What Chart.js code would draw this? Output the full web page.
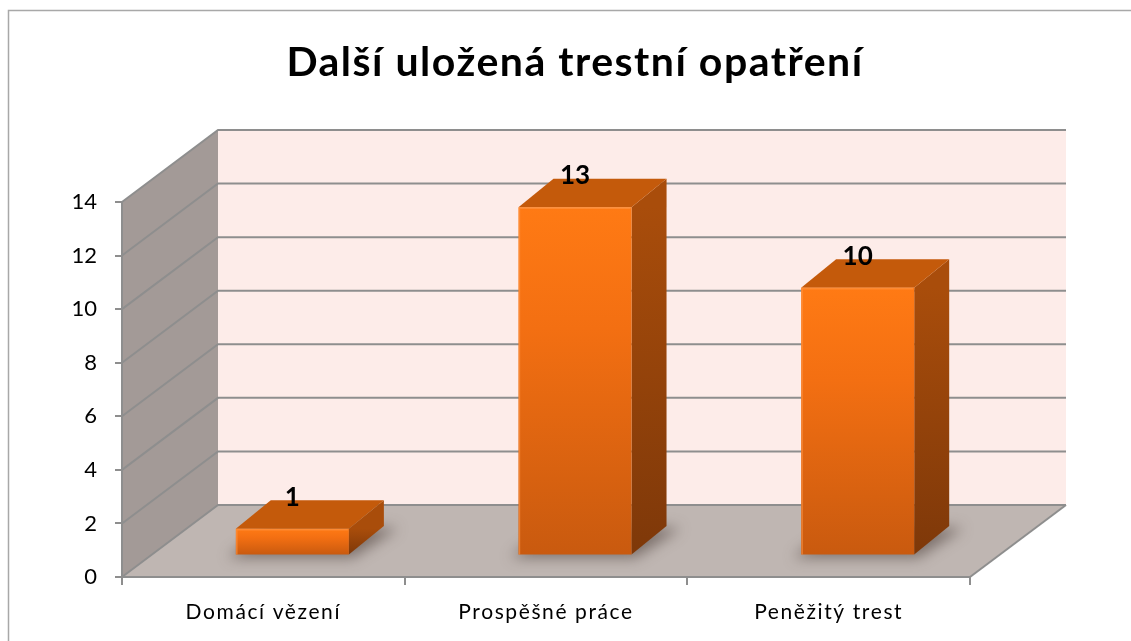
<!DOCTYPE html>
<html>
<head>
<meta charset="utf-8">
<script src="https://cdn.jsdelivr.net/npm/chart.js@4.4.1/dist/chart.umd.min.js"></script>
<style>
  html, body { margin: 0; padding: 0; background: #ffffff; }
  #wrap { width: 1131px; height: 641px; position: relative; }
</style>
</head>
<body>
<div id="wrap"><canvas id="c" width="1131" height="641"></canvas></div>
<script>
const categories = ['Domácí vězení', 'Prospěšné práce', 'Peněžitý trest'];
const values = [1, 13, 10];
const yTicks = [0, 2, 4, 6, 8, 10, 12, 14];
const chartTitle = 'Další uložená trestní opatření';

// 3D styling constants (not data)
const WALL_DX = 96, WALL_DY = -72;     // depth of the walls/floor
const FACE_DX = 29, FACE_DY = -21.5;   // where the bars' front faces sit
const BAR_DX = 35, BAR_DY = -28.5;     // depth of each bar
const GRID = '#8e8e8e';
const FONT = 'Lato, "Open Sans", sans-serif';

const threeD = {
  id: 'threeD',
  afterUpdate(chart) {
    const s = chart.scales.x;
    if (s && !s._spaced) {
      const orig = s.drawLabels.bind(s);
      s.drawLabels = function (area) {
        const c = this.ctx;
        const prev = c.letterSpacing;
        c.letterSpacing = '1.6px';
        orig(area);
        c.letterSpacing = prev || '0px';
      };
      s._spaced = true;
    }
  },
  beforeDraw(chart) {
    const ctx = chart.ctx;
    const ys = chart.scales.y, xs = chart.scales.x;
    const L = xs.left, R = xs.right;
    const y0 = ys.getPixelForValue(0), yT = ys.getPixelForValue(yTicks[yTicks.length - 1]);
    ctx.save();
    ctx.fillStyle = '#ffffff';
    ctx.fillRect(0, 0, chart.width, chart.height);
    // outer frame
    ctx.strokeStyle = '#a8a8a8';
    ctx.lineWidth = 1.5;
    ctx.strokeRect(8.5, 10.5, 1200, 800);
    // back wall
    ctx.fillStyle = '#fdece9';
    ctx.fillRect(L + WALL_DX, yT + WALL_DY, R - L, y0 - yT);
    // side wall
    ctx.fillStyle = '#a39a97';
    ctx.beginPath();
    ctx.moveTo(L, y0); ctx.lineTo(L, yT);
    ctx.lineTo(L + WALL_DX, yT + WALL_DY); ctx.lineTo(L + WALL_DX, y0 + WALL_DY);
    ctx.closePath(); ctx.fill();
    // floor
    ctx.fillStyle = '#bfb6b2';
    ctx.beginPath();
    ctx.moveTo(L, y0); ctx.lineTo(R, y0);
    ctx.lineTo(R + WALL_DX, y0 + WALL_DY); ctx.lineTo(L + WALL_DX, y0 + WALL_DY);
    ctx.closePath(); ctx.fill();
    // grid lines on side + back walls
    ctx.strokeStyle = GRID;
    ctx.lineWidth = 2;
    yTicks.forEach(v => {
      const py = ys.getPixelForValue(v);
      ctx.beginPath();
      ctx.moveTo(L, py);
      ctx.lineTo(L + WALL_DX, py + WALL_DY);
      ctx.lineTo(R + WALL_DX, py + WALL_DY);
      ctx.stroke();
    });
    // floor right edge
    ctx.beginPath();
    ctx.moveTo(R, y0); ctx.lineTo(R + WALL_DX, y0 + WALL_DY);
    ctx.stroke();
    // title
    ctx.fillStyle = '#000000';
    ctx.font = 'bold 41px ' + FONT;
    ctx.letterSpacing = '1.5px';
    ctx.textAlign = 'center';
    ctx.textBaseline = 'alphabetic';
    ctx.fillText(chartTitle, 575, 76);
    ctx.restore();
  },
  afterDatasetsDraw(chart) {
    const ctx = chart.ctx;
    const meta = chart.getDatasetMeta(0);
    meta.data.forEach((bar, i) => {
      const p = bar.getProps(['x', 'y', 'base', 'width'], true);
      const L = p.x - p.width / 2 + FACE_DX, R = p.x + p.width / 2 + FACE_DX;
      const T = p.y + FACE_DY, B = p.base + FACE_DY;
      ctx.save();
      // shadow on floor
      ctx.filter = 'blur(7px)';
      ctx.fillStyle = 'rgba(70,55,50,0.55)';
      ctx.beginPath();
      ctx.moveTo(L - 8, B + 3); ctx.lineTo(R + 4, B + 3);
      ctx.lineTo(R + BAR_DX + 14, B + BAR_DY + 2); ctx.lineTo(L + BAR_DX, B + BAR_DY);
      ctx.closePath(); ctx.fill();
      ctx.filter = 'none';
      // side face
      const gs = ctx.createLinearGradient(0, T, 0, B);
      gs.addColorStop(0, '#a94d0b');
      gs.addColorStop(1, '#7e3809');
      ctx.fillStyle = gs;
      ctx.beginPath();
      ctx.moveTo(R, T); ctx.lineTo(R + BAR_DX, T + BAR_DY);
      ctx.lineTo(R + BAR_DX, B + BAR_DY); ctx.lineTo(R, B);
      ctx.closePath(); ctx.fill();
      // top face
      ctx.fillStyle = '#c45a0b';
      ctx.beginPath();
      ctx.moveTo(L, T); ctx.lineTo(R, T);
      ctx.lineTo(R + BAR_DX, T + BAR_DY); ctx.lineTo(L + BAR_DX, T + BAR_DY);
      ctx.closePath(); ctx.fill();
      // front face
      const gf = ctx.createLinearGradient(0, T, 0, B);
      gf.addColorStop(0, '#ff7a14');
      gf.addColorStop(0.35, '#f36f12');
      gf.addColorStop(1, '#c95a0f');
      ctx.fillStyle = gf;
      ctx.fillRect(L, T, R - L, B - T);
      // subtle highlights on edges
      ctx.strokeStyle = 'rgba(255,150,70,0.6)';
      ctx.lineWidth = 1.5;
      ctx.beginPath();
      ctx.moveTo(L + 1, B); ctx.lineTo(L + 1, T + 1); ctx.lineTo(R - 1, T + 1);
      ctx.stroke();
      // data label
      ctx.fillStyle = '#000000';
      ctx.letterSpacing = '0px';
      ctx.font = 'bold 26px ' + FONT;
      ctx.textAlign = 'center';
      ctx.textBaseline = 'middle';
      ctx.fillText(String(values[i]), (L + R) / 2, T + BAR_DY - 3);
      ctx.restore();
    });
  }
};

new Chart(document.getElementById('c'), {
  type: 'bar',
  data: {
    labels: categories,
    datasets: [{
      data: values,
      backgroundColor: 'rgba(0,0,0,0)',
      borderWidth: 0,
      barPercentage: 0.4,
      categoryPercentage: 1.0
    }]
  },
  options: {
    responsive: false,
    animation: false,
    devicePixelRatio: 1,
    layout: { padding: { left: 0, right: 161, top: 202, bottom: 0 } },
    plugins: {
      legend: { display: false },
      tooltip: { enabled: false },
      title: { display: false }
    },
    scales: {
      y: {
        min: 0, max: 14,
        afterFit(s) { s.width = 122; },
        afterBuildTicks(s) { s.ticks = yTicks.map(v => ({ value: v })); },
        grid: { drawOnChartArea: false, drawTicks: true, tickLength: 7, color: GRID, lineWidth: 2 },
        border: { display: true, color: GRID, width: 2 },
        ticks: { color: '#000000', padding: 18, font: { family: FONT, size: 22 } }
      },
      x: {
        afterFit(s) { s.height = 64; },
        grid: { drawOnChartArea: false, drawTicks: true, tickLength: 8, color: GRID, lineWidth: 2, offset: true },
        border: { display: true, color: GRID, width: 2 },
        ticks: { color: '#000000', padding: 15, font: { family: FONT, size: 21 } }
      }
    }
  },
  plugins: [threeD]
});
</script>
</body>
</html>
